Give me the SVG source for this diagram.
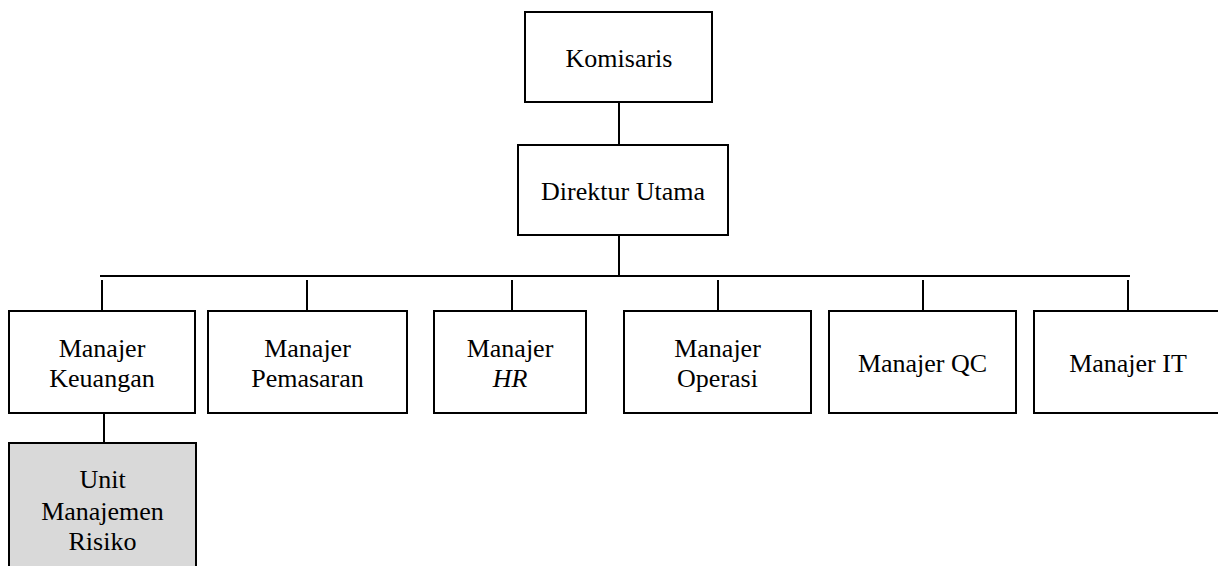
<svg xmlns="http://www.w3.org/2000/svg" width="1218" height="566" viewBox="0 0 1218 566">
<style>
.box{fill:#ffffff;stroke:#000000;stroke-width:2}
.grey{fill:#d9d9d9;stroke:#000000;stroke-width:2}
.ln{stroke:#000000;stroke-width:2;fill:none}
text{font-family:"Liberation Serif","Times New Roman",serif;font-size:26px;fill:#000000;text-anchor:middle}
</style>
<rect width="1218" height="566" fill="#ffffff"/>
<g id="connectors">
<line class="ln" x1="619" y1="102" x2="619" y2="145"/>
<line class="ln" x1="619" y1="235" x2="619" y2="276"/>
<line class="ln" x1="100" y1="276" x2="1130" y2="276"/>
<line class="ln" x1="102" y1="280" x2="102" y2="311"/>
<line class="ln" x1="307" y1="280" x2="307" y2="311"/>
<line class="ln" x1="512" y1="280" x2="512" y2="311"/>
<line class="ln" x1="718" y1="280" x2="718" y2="311"/>
<line class="ln" x1="923" y1="280" x2="923" y2="311"/>
<line class="ln" x1="1128" y1="280" x2="1128" y2="311"/>
<line class="ln" x1="104" y1="413" x2="104" y2="443"/>
</g>
<g id="komisaris">
<rect class="box" x="525" y="12" width="187" height="90"/>
<text x="619" y="67">Komisaris</text>
</g>
<g id="direktur-utama">
<rect class="box" x="518" y="145" width="210" height="90"/>
<text x="623" y="200">Direktur Utama</text>
</g>
<g id="manajer-keuangan">
<rect class="box" x="9" y="311" width="186" height="102"/>
<text x="102" y="357">Manajer</text>
<text x="102" y="387">Keuangan</text>
</g>
<g id="manajer-pemasaran">
<rect class="box" x="208" y="311" width="199" height="102"/>
<text x="307.5" y="357">Manajer</text>
<text x="307.5" y="387">Pemasaran</text>
</g>
<g id="manajer-hr">
<rect class="box" x="434" y="311" width="152" height="102"/>
<text x="510" y="357">Manajer</text>
<text x="510" y="387" font-style="italic">HR</text>
</g>
<g id="manajer-operasi">
<rect class="box" x="624" y="311" width="187" height="102"/>
<text x="717.5" y="357">Manajer</text>
<text x="717.5" y="387">Operasi</text>
</g>
<g id="manajer-qc">
<rect class="box" x="829" y="311" width="187" height="102"/>
<text x="922.5" y="372">Manajer QC</text>
</g>
<g id="manajer-it">
<rect class="box" x="1034" y="311" width="188" height="102"/>
<text x="1128" y="372">Manajer IT</text>
</g>
<g id="unit-manajemen-risiko">
<rect class="grey" x="9" y="443" width="187" height="130"/>
<text x="102.5" y="488">Unit</text>
<text x="102.5" y="520">Manajemen</text>
<text x="102.5" y="550">Risiko</text>
</g>
</svg>
